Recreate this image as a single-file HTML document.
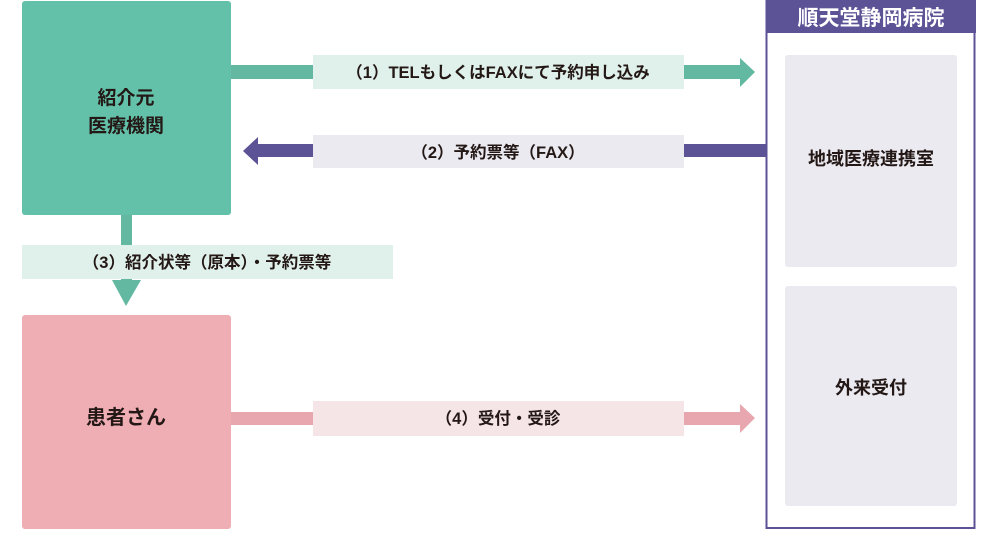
<!DOCTYPE html>
<html><head><meta charset="utf-8"><style>
body{margin:0;background:#fff;}
svg text{font-family:"Liberation Sans","Noto Sans CJK JP",sans-serif;font-weight:bold;}
</style></head><body>
<svg width="1000" height="535" xmlns="http://www.w3.org/2000/svg">
<rect x="22" y="1" width="209" height="214" rx="3" fill="#63c1aa"/>
<text x="126" y="104" font-size="19" fill="#231815" text-anchor="middle">紹介元</text>
<text x="126" y="132" font-size="19" fill="#231815" text-anchor="middle">医療機関</text>
<rect x="22" y="315" width="209" height="214" rx="3" fill="#efadb4"/>
<text x="126" y="424" font-size="20" fill="#231815" text-anchor="middle">患者さん</text>
<rect x="766.5" y="1" width="208" height="527" fill="#fff" stroke="#5c5296" stroke-width="2"/>
<rect x="766" y="0" width="210" height="33" fill="#5c5296"/>
<text x="871" y="25" font-size="21" fill="#fff" text-anchor="middle">順天堂静岡病院</text>
<rect x="785" y="55" width="172" height="212" rx="3" fill="#ebeaf1"/>
<text x="871" y="165" font-size="18" fill="#231815" text-anchor="middle">地域医療連携室</text>
<rect x="785" y="286" width="172" height="220" rx="3" fill="#ebeaf1"/>
<text x="871" y="394" font-size="18" fill="#231815" text-anchor="middle">外来受付</text>
<rect x="231" y="65" width="510" height="14" fill="#62b8a0"/>
<polygon points="740,58 755,72 740,87" fill="#62b8a0"/>
<rect x="313" y="55" width="371" height="34" fill="#e0f1ec"/>
<text x="498" y="78" font-size="16.5" fill="#231815" text-anchor="middle">（1）TELもしくはFAXにて予約申し込み</text>
<rect x="258" y="144" width="508" height="13" fill="#5c5296"/>
<polygon points="258,137 243,151 258,165" fill="#5c5296"/>
<rect x="313" y="135" width="371" height="33" fill="#ebeaf1"/>
<text x="498" y="158" font-size="16.5" fill="#231815" text-anchor="middle">（2）予約票等（FAX）</text>
<rect x="121" y="215" width="11" height="67" fill="#62b8a0"/>
<polygon points="112,280 141,280 126,306" fill="#62b8a0"/>
<rect x="22" y="245" width="371" height="34" fill="#e0f1ec"/>
<text x="207" y="268" font-size="16.5" fill="#231815" text-anchor="middle">（3）紹介状等（原本）・予約票等</text>
<rect x="231" y="412" width="510" height="13" fill="#e8a7ae"/>
<polygon points="740,404 755,418 740,433" fill="#e8a7ae"/>
<rect x="313" y="401" width="371" height="35" fill="#f5e5e7"/>
<text x="498" y="424" font-size="16.5" fill="#231815" text-anchor="middle">（4）受付・受診</text>
</svg>
</body></html>
